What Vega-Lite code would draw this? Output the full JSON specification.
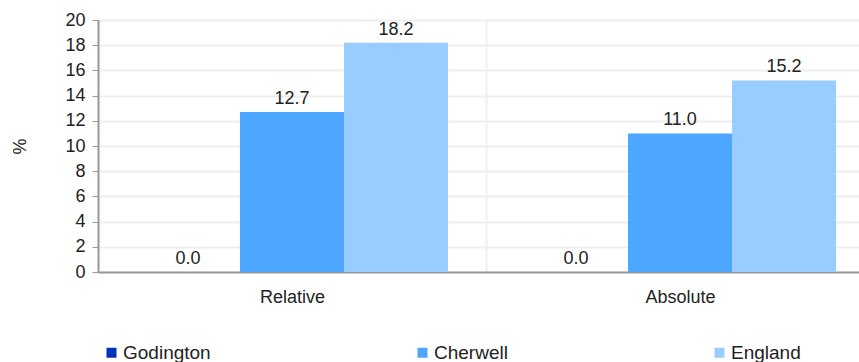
{
  "$schema": "https://vega.github.io/schema/vega-lite/v6.json",
  "autosize": {"type": "none"},
  "padding": {"left": 98, "top": 20, "right": 0, "bottom": 90},
  "width": 761,
  "height": 252,
  "background": "white",
  "config": {
    "font": "Liberation Sans",
    "view": {"stroke": null}
  },
  "data": {
    "values": [
      {"measure": "Relative", "area": "Godington", "value": 0.0},
      {"measure": "Relative", "area": "Cherwell", "value": 12.7},
      {"measure": "Relative", "area": "England", "value": 18.2},
      {"measure": "Absolute", "area": "Godington", "value": 0.0},
      {"measure": "Absolute", "area": "Cherwell", "value": 11.0},
      {"measure": "Absolute", "area": "England", "value": 15.2}
    ]
  },
  "encoding": {
    "x": {
      "field": "measure",
      "type": "nominal",
      "sort": ["Relative", "Absolute"],
      "scale": {"range": [0, 776], "paddingInner": 0, "paddingOuter": 0},
      "axis": {
        "title": null,
        "labelAngle": 0,
        "ticks": false,
        "labelPadding": 16,
        "labelFontSize": 18,
        "labelColor": "#222",
        "domainColor": "#999",
        "domainWidth": 2,
        "grid": true,
        "tickBand": "extent",
        "gridColor": "#eeeeee",
        "gridWidth": 2
      }
    },
    "xOffset": {
      "field": "area",
      "type": "nominal",
      "sort": ["Godington", "Cherwell", "England"],
      "scale": {"paddingInner": 0, "paddingOuter": 0.365}
    },
    "y": {
      "field": "value",
      "type": "quantitative",
      "scale": {"domain": [0, 20], "nice": false},
      "axis": {
        "title": "%",
        "titleFontSize": 18,
        "titleFontWeight": "normal",
        "titleColor": "#222",
        "titleAngle": -90,
        "titleX": -78,
        "titleY": 126,
        "titleAlign": "center",
        "titleBaseline": "middle",
        "values": [0, 2, 4, 6, 8, 10, 12, 14, 16, 18, 20],
        "labelFontSize": 18,
        "labelColor": "#222",
        "labelPadding": 7,
        "tickSize": 6,
        "tickColor": "#999",
        "domainColor": "#999",
        "domainWidth": 2,
        "gridColor": "#eeeeee",
        "gridWidth": 2
      }
    }
  },
  "layer": [
    {
      "mark": {"type": "bar"},
      "encoding": {
        "color": {
          "field": "area",
          "type": "nominal",
          "sort": ["Godington", "Cherwell", "England"],
          "scale": {
            "domain": ["Godington", "Cherwell", "England"],
            "range": ["#0033bb", "#4da6ff", "#99ccff"]
          },
          "legend": {
            "title": null,
            "orient": "none",
            "legendX": 4,
            "legendY": 323,
            "direction": "horizontal",
            "columns": 3,
            "columnPadding": 202,
            "gridAlign": "each",
            "symbolType": "square",
            "symbolSize": 100,
            "symbolStrokeWidth": 0,
            "symbolOpacity": 1,
            "labelFontSize": 19,
            "labelColor": "#222",
            "labelOffset": 2
          }
        }
      }
    },
    {
      "mark": {"type": "text", "baseline": "bottom", "dy": -4, "fontSize": 18, "color": "#222"},
      "encoding": {
        "text": {"field": "value", "type": "quantitative", "format": ".1f"}
      }
    }
  ]
}
